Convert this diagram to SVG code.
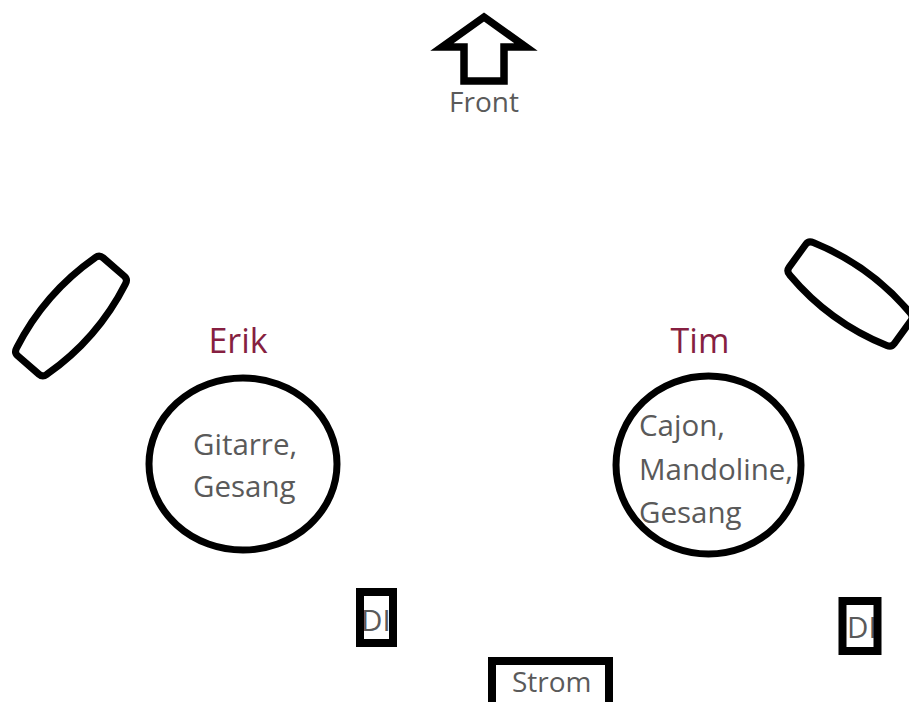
<svg xmlns="http://www.w3.org/2000/svg" width="909" height="702" viewBox="0 0 909 702">
<style>
.ln{fill:#fff;stroke:#000;stroke-width:7;stroke-linejoin:round}
.bx{fill:none;stroke:#000;stroke-width:8;stroke-linejoin:miter}
.t{font-family:"Open Sans","Noto Sans","DejaVu Sans",sans-serif;fill:#5a5a5a;font-size:29.5px}
.n{font-family:"Open Sans","Noto Sans","DejaVu Sans",sans-serif;fill:#861f41;font-size:34px}
</style>
<defs>
<path id="wedge" d="M -60,-20 Q 0,-35 60,-20 Q 65,-19 65,-14 L 65,14 Q 65,19 60,20 Q 0,35 -60,20 Q -65,19 -65,14 L -65,-14 Q -65,-19 -60,-20 Z"/>
</defs>
<rect width="909" height="702" fill="#fff"/>
<g id="front">
<polygon points="484,17 526,47 504,47 504,81 464,81 464,47 442,47" fill="#fff" stroke="#000" stroke-width="7.5" stroke-linejoin="miter"/>
<text class="t" x="484" y="112" text-anchor="middle" style="font-size:28px">Front</text>
</g>
<g id="monitor-left">
<use href="#wedge" class="ln" transform="translate(71,316) rotate(-49)"/>
</g>
<g id="monitor-right">
<use href="#wedge" class="ln" transform="translate(850,294) rotate(36)"/>
</g>
<g id="erik">
<text class="n" x="238" y="353" text-anchor="middle">Erik</text>
<ellipse class="ln" cx="243" cy="464" rx="94" ry="86"/>
<text class="t" x="193" y="455">Gitarre,</text>
<text class="t" x="193" y="497">Gesang</text>
</g>
<g id="tim">
<text class="n" x="700" y="353" text-anchor="middle">Tim</text>
<ellipse class="ln" cx="708.5" cy="465" rx="92.5" ry="89"/>
<text class="t" x="639" y="436">Cajon,</text>
<text class="t" x="639" y="480">Mandoline,</text>
<text class="t" x="639" y="523">Gesang</text>
</g>
<g id="di-left">
<text class="t" x="361" y="631">DI</text>
<rect class="bx" x="360" y="592" width="33" height="51"/>
</g>
<g id="di-right">
<text class="t" x="847" y="638">DI</text>
<rect class="bx" x="842.5" y="601" width="35" height="50"/>
</g>
<g id="strom">
<rect class="bx" x="492" y="661" width="117" height="50"/>
<text class="t" x="512" y="692" style="font-size:28px">Strom</text>
</g>
<g id="connectors"></g>
</svg>
